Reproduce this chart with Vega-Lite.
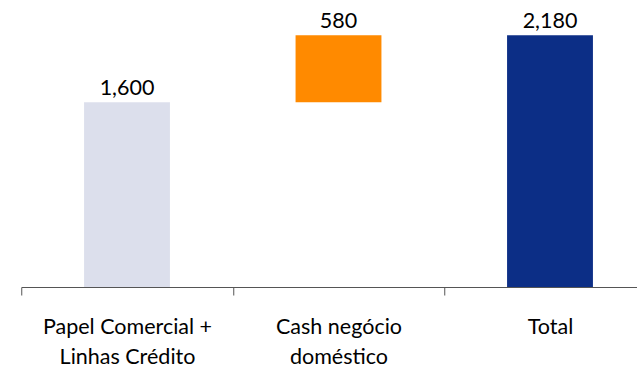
{
  "$schema": "https://vega.github.io/schema/vega-lite/v6.json",
  "width": 634.5,
  "height": 287,
  "autosize": {"type": "none"},
  "padding": {"left": 21.25, "top": 0, "right": 0, "bottom": 81},
  "background": "white",
  "config": {"view": {"stroke": null}, "font": "Lato"},
  "data": {
    "values": [
      {"category": "Papel Comercial +\nLinhas Crédito", "start": 0, "end": 1600, "value": 1600, "color": "#dcdfec"},
      {"category": "Cash negócio\ndoméstico", "start": 1600, "end": 2180, "value": 580, "color": "#ff8a00"},
      {"category": "Total", "start": 0, "end": 2180, "value": 2180, "color": "#0c2e86"}
    ]
  },
  "encoding": {
    "x": {
      "field": "category",
      "type": "nominal",
      "sort": null,
      "scale": {"paddingInner": 0, "paddingOuter": 0},
      "axis": {
        "title": null,
        "labelAngle": 0,
        "labelExpr": "split(datum.label, '\\n')",
        "labelFont": "Lato",
        "labelFontSize": 21.5,
        "labelColor": "#000000",
        "labelLineHeight": 30,
        "labelBaseline": "alphabetic",
        "labelPadding": 38,
        "tickBand": "extent",
        "tickSize": 8,
        "tickColor": "#555555",
        "domainColor": "#555555",
        "tickWidth": 1,
        "domainWidth": 1,
        "grid": false
      }
    }
  },
  "layer": [
    {
      "mark": {"type": "bar", "width": {"band": 0.406}},
      "encoding": {
        "y": {"field": "start", "type": "quantitative", "scale": {"domain": [0, 2485], "nice": false, "zero": true}, "axis": null},
        "y2": {"field": "end"},
        "color": {"field": "color", "type": "nominal", "scale": null}
      }
    },
    {
      "mark": {"type": "text", "baseline": "alphabetic", "dy": -7, "fontSize": 21.5, "font": "Lato", "color": "#000000"},
      "encoding": {
        "y": {"field": "end", "type": "quantitative", "scale": {"domain": [0, 2485], "nice": false, "zero": true}},
        "text": {"field": "value", "type": "quantitative", "format": ",d"}
      }
    }
  ]
}
